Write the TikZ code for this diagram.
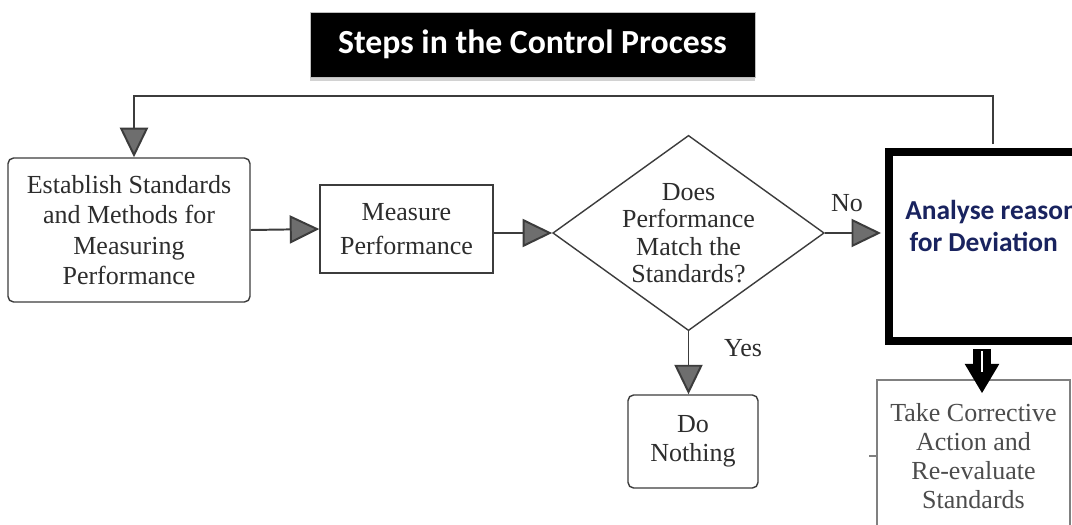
\documentclass[tikz,border=0pt]{standalone}
\usepackage{fontspec}
\setmainfont{Liberation Serif}
\newfontfamily\calibri{Carlito}
\usetikzlibrary{arrows.meta}
\usetikzlibrary{shapes.geometric}
\usetikzlibrary{shadows}
\usetikzlibrary{calc}
\definecolor{linegray}{RGB}{60,60,60}
\definecolor{tipgray}{RGB}{110,110,110}
\definecolor{textgray}{RGB}{45,45,45}
\definecolor{navy}{RGB}{25,35,95}

\begin{document}
\begin{tikzpicture}[x=0.025cm,y=-0.025cm,
    box/.style={draw=linegray,line width=1pt,fill=white,text=textgray,align=center,inner sep=0pt,font=\fontsize{18.5}{21.5}\selectfont},
    rbox/.style={box,rounded corners=4pt},
    flow/.style={draw=linegray,line width=1.4pt,-{Triangle[length=21pt,width=20pt,fill=tipgray]}},
    lbl/.style={text=textgray,inner sep=0pt,font=\fontsize{18.5}{21.5}\selectfont}]
  \useasboundingbox (0,0) rectangle (1072,525);
  \clip (0,0) rectangle (1072,525);
  \fill[white] (0,0) rectangle (1072,525);

  % title
  \node[fill=black,draw=gray!50,minimum width=11.125cm,minimum height=1.625cm,text=white,
        font=\calibri\bfseries\fontsize{24}{28}\selectfont,
        drop shadow={opacity=0.35,shadow xshift=0pt,shadow yshift=-3pt}] (title) at (532.5,44.5) {Steps in the Control Process};

  % steps
  \node[rbox,minimum width=6.05cm,minimum height=3.6cm] (establish) at (129,230) {Establish Standards\\and Methods for\\Measuring\\Performance};
  \node[box,minimum width=4.325cm,minimum height=2.2cm,font=\fontsize{18.5}{24}\selectfont] (measure) at (406.5,229) {Measure\\Performance};
  \node[box,diamond,aspect=1.39,minimum width=6.575cm,minimum height=4.725cm,font=\fontsize{18.5}{19.5}\selectfont] (decide) at (688.5,233) {Does\\Performance\\Match the\\Standards?};
  \node[rbox,minimum width=3.25cm,minimum height=2.325cm,font=\fontsize{18.5}{21}\selectfont] (nothing) at (693,441.5) {Do\\Nothing};
  \node[box,draw=gray,line width=0.8pt,minimum width=4.825cm,minimum height=3.8cm,text=textgray!85,font=\fontsize{18.5}{20.5}\selectfont] (corrective) at (973.5,456) {Take Corrective\\Action and\\Re-evaluate\\Standards};
  \node[draw=black,line width=5.7pt,fill=white,minimum width=5.275cm,minimum height=4.725cm] (analyse) at (994.5,246.5) {};
  \node[anchor=west,align=left,text=navy,inner sep=0pt,font=\calibri\bfseries\fontsize{19.5}{22.7}\selectfont] (analysetxt) at (905,226) {Analyse reason\\\hspace{3pt}for Deviation};

  \coordinate (fbL) at (134,96);
  \coordinate (fbR) at (993,96);
  \coordinate (dn) at (982,0);

  % connectors
  \draw[flow] (establish.east) -- (measure.west);
  \draw[flow] (measure.east |- decide.west) -- (decide.west);
  \draw[flow,shorten >=2.8pt] (decide.east) -- (decide.east -| analyse.west);
  \node[lbl] (nolbl) at (847,203) {No};
  \draw[flow] (decide.south) -- (decide.south |- nothing.north);
  \node[lbl] (yeslbl) at (743,348) {Yes};
  \draw[flow,shorten <=2.8pt] (analyse.north -| fbR) |- (fbL) -- (establish.north -| fbL);
  \draw[line width=13pt,-{Triangle[length=21pt,width=23pt]},shorten <=2.8pt,shorten >=-10pt] (analyse.south -| dn) -- (corrective.north -| dn);
  \draw[white,line width=1.8pt] ($(analyse.south -| dn)+(0,6)$) -- ($(corrective.north -| dn)+(0,-7)$);
  \draw[draw=gray,line width=0.8pt] (corrective.west) -- ++(-7,0);
\end{tikzpicture}
\end{document}
